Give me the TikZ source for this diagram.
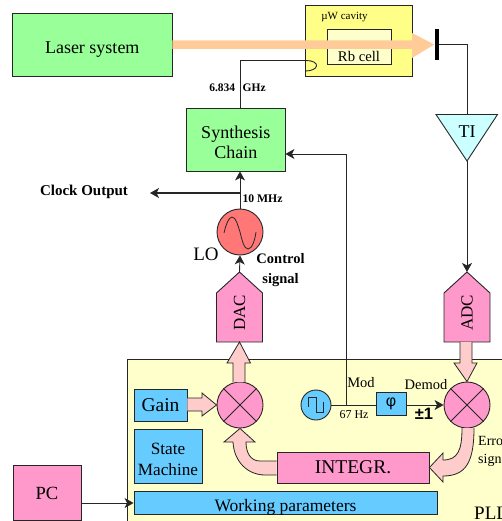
\documentclass[tikz,border=0pt]{standalone}
\usepackage{fontspec}
\setmainfont{Liberation Serif}
\newfontfamily\sansf{Liberation Sans}
\usetikzlibrary{arrows.meta}
\definecolor{grn}{HTML}{99FF99}
\definecolor{ylw}{HTML}{FFFF88}
\definecolor{pale}{HTML}{FFFFCC}
\definecolor{pnk}{HTML}{FF99CC}
\definecolor{blu}{HTML}{66CCFF}
\definecolor{lored}{HTML}{FF7777}
\definecolor{cyn}{HTML}{CCFFFF}
\definecolor{arr}{HTML}{FFCCCC}
\definecolor{beam}{HTML}{FFCC99}
\newcommand{\fs}[1]{\fontsize{#1}{#1}\selectfont}
\newcommand{\dn}[2]{\raisebox{-#1pt}{#2}}
\tikzset{
  box/.style={draw=black!85,line width=0.9pt,inner sep=0pt,align=center,text=black},
  conn/.style={draw=black!85,line width=0.9pt},
  tip/.style={conn,-{Stealth[length=9pt,width=10pt,inset=2.5pt]}},
  fat/.style={fill=arr,draw=black!85,line width=0.8pt,line join=miter},
  lbl/.style={inner sep=0pt,align=center,text=black},
  mix/.style={circle,draw=black!85,line width=0.9pt,fill=pnk,minimum size=46pt,inner sep=0pt},
}
\begin{document}
\begin{tikzpicture}[x=1pt,y=-1pt]
\useasboundingbox (0,0) rectangle (502,521);
\clip (0,0) rectangle (502,521);
% PLL panel
\node[box,fill=pale,minimum width=400pt,minimum height=200pt,anchor=north west] (pll) at (126.5,358.5) {};
% top row
\node[box,fill=grn,minimum width=159.5pt,minimum height=62.5pt,font=\fs{18}] (laser) at (92.25,44.75) {\rule{0pt}{20pt}\dn{1}{Laser system}};
\node[box,fill=ylw,minimum width=106.5pt,minimum height=70.5pt] (cav) at (358.75,40.75) {};
\node[box,fill=pale,minimum width=63.5pt,minimum height=35pt] (rb) at (359.25,46.5) {};
\node[lbl,font=\fs{11}] (cavt) at (344.5,17.5) {µW cavity};
\node[lbl,font=\fs{14.7}] (rbt) at (359,56) {Rb cell};
\node[inner sep=0pt,minimum width=4pt,minimum height=31pt,fill=black] (bar) at (436.5,44.5) {};
\fill[beam] (laser.east |- 0,40.5) -- (412,40.5) -- (412,33) -- (bar.west) -- (412,58) -- (412,49) -- (laser.east |- 0,49) -- cycle;
% synth
\node[box,fill=grn,minimum width=98.5pt,minimum height=63pt,font=\fs{18}] (syn) at (235.75,139.5) {\rule{0pt}{18pt}Synthesis\\[2pt]Chain};
\coordinate (feed) at (306,60.5);
\draw[conn] (syn.north -| 240,0) -- (240,60.5) -- (feed);
\draw[conn] (feed) .. controls (313,60.5) and (317,63) .. (316.5,66) .. controls (316,69) and (311,71) .. (305.5,71);
\node[lbl,font=\fs{11.5}\bfseries] (ghz) at (237.5,88) {6.834\hspace{7.5pt}GHz};
% TI
\coordinate (tia) at (436,114.5); \coordinate (tib) at (497.5,114.5); \coordinate (tic) at (467,161);
\draw[conn,line join=miter] (bar.east) -- (467,44.5) -- (467,114.5);
\draw[box,fill=cyn] (tia) -- (tib) -- (tic) -- cycle;
\node[lbl,font=\fs{18}] (ti) at (467,131.5) {TI};
% ADC
\coordinate (adct) at (467,272);
\draw[box,fill=pnk,line join=miter] (adct) -- (490,293) -- (490,342) -- (444,342) -- (444,293) -- cycle;
\node[lbl,font=\fs{17},rotate=90] (adc) at (467,313) {ADC};
\draw[tip] (tic) -- (adct);
% LO
\node[circle,draw=black!85,line width=0.9pt,fill=lored,minimum size=46pt,inner sep=0pt] (lo) at (240,232) {};
\draw[conn,line width=0.8pt] (224,233) .. controls (226,224) and (229,217) .. (232,217) .. controls (236,217) and (238,226) .. (240,232) .. controls (242,240) and (244,249) .. (248,249) .. controls (252,249) and (255,240) .. (256,232);
\draw[tip] (lo.north) -- (syn.south -| lo.north);
\coordinate (clk) at (240,193);
\draw[tip,line width=1.2pt] (clk) -- (150,193);
\node[lbl,font=\fs{15}\bfseries] (clocktxt) at (84,192) {Clock Output};
\node[lbl,font=\fs{11.7}\bfseries] (mhz) at (262.5,199) {10 MHz};
\node[lbl,font=\fs{19}] (lot) at (206,254.5) {LO};
\node[lbl,font=\fs{14.5}\bfseries] (ctrl) at (280.5,270) {Control\\[5pt]signal};
% DAC
\coordinate (dact) at (239.5,272);
\draw[box,fill=pnk,line join=miter] (dact) -- (262.5,293) -- (262.5,342) -- (216.5,342) -- (216.5,293) -- cycle;
\node[lbl,font=\fs{17},rotate=90] (dac) at (239.5,313) {DAC};
\draw[tip] (dact) -- (lo.south);
% panel blocks
\node[mix] (m1) at (240,405) {};
\draw[conn] (m1.45) -- (m1.225) (m1.135) -- (m1.315);
\node[mix] (m2) at (467,405) {};
\draw[conn] (m2.45) -- (m2.225) (m2.135) -- (m2.315);
\node[box,fill=blu,minimum width=53pt,minimum height=31.5pt,font=\fs{19.5}] (gain) at (160.5,405.5) {\dn{1}{Gain}};
\node[box,fill=blu,minimum width=68pt,minimum height=54pt,font=\fs{17.2}] (sm) at (168,456) {\rule{0pt}{18pt}State\\[4.5pt]Machine};
\node[box,fill=pnk,minimum width=152pt,minimum height=31pt,font=\fs{19.5}] (int) at (353,467.5) {\dn{1.5}{INTEGR.}};
\node[box,fill=blu,minimum width=303pt,minimum height=23pt,font=\fs{17.5}] (wp) at (285.5,503) {\rule{0pt}{19pt}\dn{1}{Working parameters}};
\node[circle,draw=black!85,line width=0.9pt,fill=blu,minimum size=30pt,inner sep=0pt] (sq) at (316,405) {};
\draw[conn,line join=miter] (308,407) -- (308,397) -- (316,397) -- (316,412) -- (323,412) -- (323,402);
\node[box,fill=blu,minimum width=30pt,minimum height=23pt,font=\fs{16}] (phi) at (391,403.5) {\sansf φ};
% fat arrows
\draw[fat] (gain.east |- 0,398) -- (202,398) -- (202,393) -- (m1.west) -- (202,416) -- (202,411) -- (gain.east |- 0,411);
\draw[fat] (233,382) -- (233,363) -- (227,363) -- (239.5,342) -- (250.5,363) -- (245,363) -- (245,382);
\draw[fat] (460,342) -- (460,363) -- (454,363) -- (m2.north) -- (477,363) -- (472,363) -- (472,342);
\draw[fat] (462,428) .. controls (462,450) and (458,460) .. (443,460) -- (443,453) -- (int.east) -- (443,482) -- (443,476) .. controls (466,476) and (474,462) .. (474,428);
\draw[fat] (int.west |- 0,461) -- (260,461) .. controls (250,461) and (246,452) .. (246,442) -- (255,442) -- (m1.south) -- (224,442) -- (233,442) .. controls (234,462) and (248,475) .. (265,475) -- (int.west |- 0,475);
% thin connectors
\draw[conn] (sq.east) -- (phi.west |- sq.east);
\coordinate (modj) at (346,405);
\draw[tip,line join=miter] (modj) -- (346,154) -- (syn.east |- 0,154);
\draw[tip] (phi.east |- m2.west) -- (m2.west);
\node[lbl,font=\fs{14.5}] (modt) at (361,383) {Mod};
\node[lbl,font=\fs{14.5}] (demt) at (426,385) {Demod};
\node[lbl,font=\fs{12}] (hz) at (354,415) {67 Hz};
\node[lbl,font=\fs{16.5}\sansf\bfseries] (pm) at (424,414) {±1};
\node[lbl,font=\fs{14},anchor=west] (err) at (478,441) {Error};
\node[lbl,font=\fs{14},anchor=west] (sig) at (478,460) {signal};
\node[lbl,font=\fs{19},anchor=west] (plltxt) at (474,513.5) {PLL};
% PC
\node[box,fill=pnk,minimum width=68pt,minimum height=55pt,font=\fs{18.6}] (pc) at (47,493) {\dn{1}{PC}};
\draw[tip] (pc.east |- wp.west) -- (wp.west);
\end{tikzpicture}
\end{document}
